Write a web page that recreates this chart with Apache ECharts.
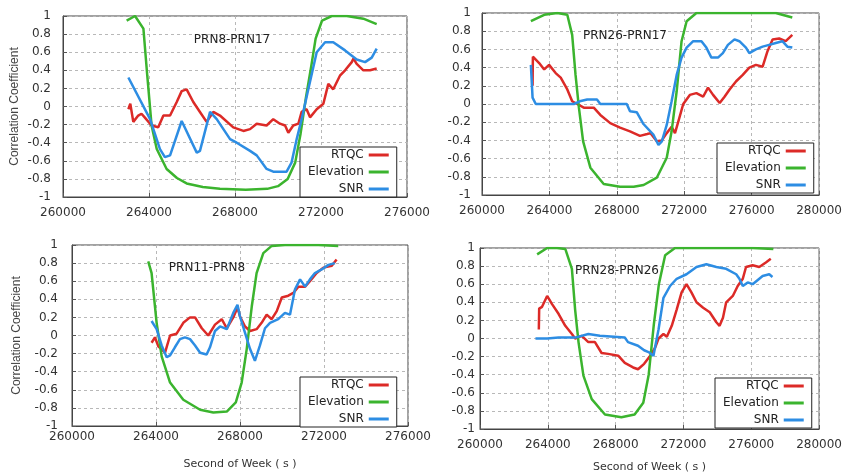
<!DOCTYPE html>
<html lang="en">
<head>
<meta charset="UTF-8">
<title>Correlation Coefficient</title>
<script src="https://cdn.jsdelivr.net/npm/echarts@6/dist/echarts.min.js"></script>
</head>
<body style="margin:0;background:#fff">
<div id="app" style="width:845px;height:475px"></div>
<script>
// series names / colours shared by all four panels
var seriesNames = ["RTQC", "Elevation", "SNR"];
var colors = ["#dc2a27", "#3bb42e", "#2d8de3"];
var panelTitles = ["PRN8-PRN17", "PRN26-PRN17", "PRN11-PRN8", "PRN28-PRN26"];
var xMin = 260000;
var xMaxes = [276000, 280000, 276000, 280000];
var xInterval = 4000;
var yTicks = [-1, 1, 0.2]; // min, max, step

// panel 1: PRN8-PRN17  [second of week, correlation]
var p1Rtqc = [[263040,-0.03],[263130,0.03],[263270,-0.17],[263500,-0.10],[263650,-0.08],[263800,-0.12],[264120,-0.21],[264430,-0.23],[264670,-0.10],[264980,-0.10],[265290,0.05],[265520,0.17],[265750,0.19],[266060,0.05],[266370,-0.06],[266680,-0.17],[266990,-0.06],[267300,-0.10],[267920,-0.23],[268390,-0.27],[268700,-0.25],[269010,-0.19],[269470,-0.21],[269780,-0.14],[270090,-0.19],[270330,-0.21],[270480,-0.29],[270710,-0.21],[270950,-0.19],[271100,-0.06],[271330,-0.03],[271490,-0.12],[271800,-0.03],[272110,0.03],[272340,0.25],[272570,0.19],[272880,0.34],[273120,0.40],[273430,0.49],[273510,0.53],[273660,0.47],[273970,0.40],[274280,0.40],[274590,0.42]];
var p1Elev = [[262960,0.95],[263350,1.0],[263740,0.86],[263920,0.34],[264120,-0.21],[264360,-0.47],[264820,-0.69],[265300,-0.79],[265750,-0.85],[266500,-0.89],[267300,-0.91],[268500,-0.92],[269500,-0.91],[270000,-0.88],[270450,-0.80],[270800,-0.62],[271050,-0.30],[271300,0.10],[271550,0.45],[271750,0.75],[272050,0.95],[272500,1.0],[273200,1.0],[273970,0.97],[274590,0.91]];
var p1Snr = [[263040,0.32],[264050,-0.14],[264510,-0.47],[264740,-0.56],[264980,-0.54],[265520,-0.16],[266220,-0.51],[266370,-0.49],[266840,-0.06],[267150,-0.14],[267770,-0.36],[268080,-0.40],[268700,-0.49],[269010,-0.54],[269470,-0.69],[269780,-0.72],[270400,-0.72],[270630,-0.62],[270870,-0.36],[271100,-0.14],[271410,0.19],[271800,0.60],[272190,0.71],[272570,0.71],[273120,0.62],[273660,0.52],[274050,0.49],[274360,0.54],[274590,0.64]];

// panel 2: PRN26-PRN17
var p2Rtqc = [[263000,0.20],[263020,0.52],[263100,0.52],[263390,0.45],[263690,0.38],[263980,0.43],[264370,0.34],[264670,0.29],[265060,0.16],[265350,0.03],[265650,0],[266040,-0.04],[266630,-0.04],[267020,-0.12],[267610,-0.21],[268190,-0.26],[268780,-0.30],[269370,-0.35],[269800,-0.33],[270000,-0.32],[270370,-0.41],[270670,-0.40],[270960,-0.32],[271250,-0.25],[271450,-0.32],[271650,-0.19],[271940,0],[272330,0.10],[272720,0.12],[273120,0.08],[273410,0.18],[273710,0.10],[274100,0.01],[274390,0.08],[274690,0.16],[275080,0.25],[275470,0.32],[275860,0.40],[276250,0.43],[276650,0.41],[276940,0.58],[277240,0.71],[277630,0.72],[278020,0.69],[278410,0.76]];
var p2Elev = [[262900,0.91],[263690,0.98],[264470,1.0],[265060,0.98],[265350,0.76],[265550,0.32],[265750,-0.04],[266000,-0.41],[266430,-0.70],[267220,-0.88],[268190,-0.91],[269000,-0.91],[269590,-0.89],[270370,-0.81],[270960,-0.59],[271250,-0.30],[271550,0.14],[271840,0.69],[272140,0.91],[272720,1.0],[275470,1.0],[277430,1.0],[278410,0.95]];
var p2Snr = [[262900,0.43],[263000,0.07],[263190,0],[265450,0],[265800,0.03],[266240,0.05],[266820,0.05],[267020,0],[268590,0],[268780,-0.08],[269180,-0.09],[269580,-0.22],[270180,-0.34],[270470,-0.45],[270670,-0.41],[270960,-0.23],[271250,0.03],[271550,0.32],[271840,0.51],[272140,0.62],[272530,0.69],[273020,0.69],[273310,0.62],[273610,0.51],[274000,0.51],[274290,0.56],[274590,0.65],[274980,0.71],[275270,0.69],[275660,0.62],[275860,0.56],[276250,0.60],[276650,0.63],[277040,0.65],[277430,0.67],[277820,0.69],[278120,0.63],[278410,0.62]];

// panel 3: PRN11-PRN8
var p3Rtqc = [[263790,-0.08],[263950,-0.02],[264110,-0.12],[264430,-0.19],[264670,0],[264980,0.02],[265300,0.14],[265620,0.20],[265860,0.20],[266180,0.08],[266490,0],[266810,0.12],[267130,0.18],[267370,0.08],[267680,0.20],[267880,0.31],[268000,0.21],[268240,0.10],[268480,0.05],[268790,0.07],[269030,0.14],[269270,0.23],[269510,0.18],[269750,0.27],[269990,0.42],[270300,0.44],[270540,0.47],[270780,0.54],[271100,0.54],[271330,0.60],[271650,0.69],[271970,0.75],[272370,0.77],[272600,0.84]];
var p3Elev = [[263630,0.82],[263790,0.69],[264030,0.14],[264270,-0.23],[264670,-0.52],[265300,-0.71],[266100,-0.82],[266730,-0.85],[267370,-0.84],[267800,-0.74],[268080,-0.52],[268320,-0.15],[268560,0.32],[268790,0.69],[269110,0.91],[269510,0.99],[270140,1.0],[271730,1.0],[272680,0.99]];
var p3Snr = [[263790,0.16],[264030,0.07],[264270,-0.11],[264510,-0.24],[264670,-0.22],[264900,-0.13],[265140,-0.04],[265380,-0.02],[265620,-0.04],[265860,-0.11],[266100,-0.19],[266410,-0.21],[266570,-0.13],[266810,0.05],[267050,0.10],[267370,0.07],[267680,0.25],[267880,0.34],[268000,0.21],[268240,0.03],[268480,-0.15],[268710,-0.28],[268950,-0.11],[269190,0.08],[269430,0.14],[269820,0.18],[270140,0.25],[270380,0.23],[270620,0.51],[270860,0.62],[271100,0.54],[271330,0.62],[271570,0.69],[271890,0.73],[272210,0.78],[272520,0.80]];

// panel 4: PRN28-PRN26
var p4Rtqc = [[263470,0.10],[263490,0.33],[263660,0.35],[263960,0.47],[264250,0.38],[264640,0.27],[265030,0.14],[265420,0.05],[265610,0],[266000,0.03],[266390,-0.04],[266780,-0.04],[267170,-0.16],[267560,-0.17],[268150,-0.19],[268540,-0.27],[269030,-0.32],[269320,-0.34],[269680,-0.28],[270040,-0.19],[270330,-0.10],[270530,0],[270820,0.05],[271020,0.02],[271310,0.14],[271600,0.32],[271890,0.51],[272180,0.60],[272470,0.51],[272770,0.40],[273160,0.34],[273550,0.29],[273940,0.18],[274130,0.14],[274330,0.23],[274520,0.40],[274910,0.47],[275200,0.58],[275500,0.66],[275690,0.79],[276080,0.81],[276470,0.79],[276860,0.84],[277150,0.88]];
var p4Elev = [[263370,0.93],[263960,1.0],[264540,1.0],[265030,0.99],[265420,0.77],[265610,0.32],[265810,-0.04],[266100,-0.41],[266590,-0.67],[267370,-0.84],[268340,-0.87],[269120,-0.84],[269630,-0.71],[269950,-0.40],[270250,0.15],[270550,0.60],[270920,0.92],[271500,1.0],[272570,1.0],[276080,1.0],[277300,0.99]];
var p4Snr = [[263270,0],[263960,0],[264640,0.01],[265610,0.01],[266390,0.05],[267070,0.03],[268540,0.01],[268730,-0.04],[269320,-0.08],[269680,-0.13],[269940,-0.15],[270230,-0.19],[270530,0.10],[270820,0.45],[271210,0.58],[271600,0.66],[272180,0.71],[272770,0.79],[273350,0.82],[273940,0.79],[274520,0.77],[275110,0.71],[275300,0.66],[275500,0.58],[275790,0.62],[276080,0.60],[276670,0.69],[277060,0.71],[277250,0.68]];

var panelData = [
	[p1Rtqc, p1Elev, p1Snr],
	[p2Rtqc, p2Elev, p2Snr],
	[p3Rtqc, p3Elev, p3Snr],
	[p4Rtqc, p4Elev, p4Snr]
];

// layout of each panel (px)
var layout = [
	{left:63, top:16, width:344, height:181, lgLeft:300, lgTop:147, xMargin:10, yMargin:12, tx:232, ty:40, yName:42, xName:false},
	{left:482, top:13, width:340, height:182, lgLeft:717, lgTop:143, xMargin:10, yMargin:11, tx:625, ty:36, yName:0, xName:false},
	{left:72, top:245, width:336, height:181, lgLeft:300, lgTop:377, xMargin:5, yMargin:14, tx:207, ty:268, yName:49, xName:true},
	{left:480, top:248, width:342, height:181, lgLeft:715, lgTop:378, xMargin:10, yMargin:5, tx:617, ty:271, yName:0, xName:true}
];

var labelFont = "DejaVu Sans";
var grids = [], xAxes = [], yAxes = [], series = [], legends = [], texts = [];

layout.forEach(function (p, i) {
	grids.push({left:p.left, top:p.top, width:p.width, height:p.height, show:true, borderColor:"#444", borderWidth:1, backgroundColor:"#fff"});
	xAxes.push({
		type:"value", gridIndex:i, min:xMin, max:xMaxes[i], interval:xInterval,
		name: p.xName ? "Second of Week ( s )" : "",
		nameLocation:"middle", nameGap:33,
		nameTextStyle:{fontFamily:labelFont, fontSize:11, color:"#333"},
		axisLine:{show:true, onZero:false, lineStyle:{color:"#444"}},
		axisTick:{inside:true, length:4, lineStyle:{color:"#555"}},
		axisLabel:{margin:p.xMargin, fontFamily:labelFont, fontSize:12, color:"#333",
			formatter:function (v) { return String(v); }},
		splitLine:{show:true, lineStyle:{type:[3,3], color:"#b8b8b8"}}
	});
	yAxes.push({
		type:"value", gridIndex:i, min:yTicks[0], max:yTicks[1], interval:yTicks[2],
		name: p.yName ? "Correlation Coefficient" : "",
		nameLocation:"middle", nameGap:p.yName,
		nameTextStyle:{fontFamily:"Liberation Sans", fontSize:12, color:"#444"},
		axisLine:{show:true, onZero:false, lineStyle:{color:"#444"}},
		axisTick:{inside:true, length:4, lineStyle:{color:"#555"}},
		axisLabel:{margin:p.yMargin, fontFamily:labelFont, fontSize:12, color:"#333"},
		splitLine:{show:true, lineStyle:{type:[3,3], color:"#b8b8b8"}}
	});
	seriesNames.forEach(function (name, k) {
		series.push({
			name:name, type:"line", xAxisIndex:i, yAxisIndex:i,
			data:panelData[i][k], showSymbol:false, symbol:"none",
			color:colors[k], lineStyle:{width:2.5, color:colors[k]}
		});
	});
	legends.push({
		data:seriesNames, orient:"vertical", align:"right",
		left:p.lgLeft, top:p.lgTop, padding:[1,8,1,8], itemGap:3,
		itemWidth:20, itemHeight:3, icon:"rect",
		backgroundColor:"#fff", borderColor:"#222", borderWidth:1,
		textStyle:{fontFamily:labelFont, fontSize:12, color:"#222", lineHeight:14},
		selectedMode:false
	});
	texts.push({
		type:"text", x:p.tx, y:p.ty, z:10,
		style:{text:panelTitles[i], fontFamily:labelFont, fontSize:12, fill:"#222", align:"center", verticalAlign:"middle"}
	});
});

var myChart = echarts.init(document.getElementById("app"));
myChart.setOption({
	animation:false,
	backgroundColor:"#fff",
	grid:grids,
	xAxis:xAxes,
	yAxis:yAxes,
	legend:legends,
	graphic:texts,
	series:series
});
</script>
</body>
</html>
